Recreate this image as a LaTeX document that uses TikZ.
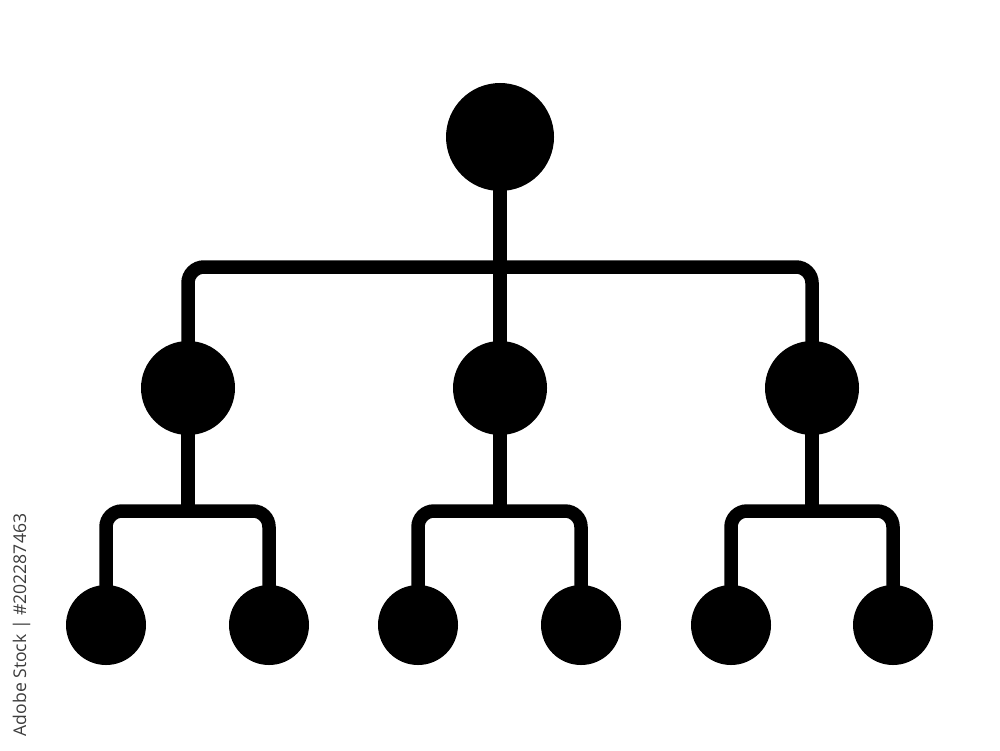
\documentclass[tikz,border=0pt]{standalone}
\usepackage{fontspec}
\usetikzlibrary{backgrounds}
\newfontfamily\marcafont{Open Sans}
\definecolor{cinza}{HTML}{3C3C3C}
\tikzset{
	no/.style={circle, fill=black, inner sep=0pt, outer sep=0pt, minimum size=#1},
	liga/.style={line width=1.35mm, rounded corners=1.6mm},
}
\begin{document}
\begin{tikzpicture} %Início do desenho
					\useasboundingbox (0,0) rectangle (10,7.5); %Área do desenho
						%Nós
					\node[no=10.8mm] (raiz) at (5,6.13) {}; %Raiz
					
					\node[no=9.4mm] (m1) at (1.88,3.62) {};
					\node[no=9.4mm] (m2) at (5,3.62) {};
					\node[no=9.4mm] (m3) at (8.12,3.62) {};
					
					\node[no=8mm] (f1) at (1.06,1.25) {};
					\node[no=8mm] (f2) at (2.69,1.25) {};
					\node[no=8mm] (f3) at (4.18,1.25) {};
					\node[no=8mm] (f4) at (5.81,1.25) {};
					\node[no=8mm] (f5) at (7.31,1.25) {};
					\node[no=8mm] (f6) at (8.93,1.25) {};
						%Ligações (atrás dos nós)
					\coordinate (b0) at (5,4.83);
					\coordinate (b1) at (1.88,2.39);
					\coordinate (b2) at (5,2.39);
					\coordinate (b3) at (8.12,2.39);
					
					\begin{scope}[on background layer]
					\draw[liga] (raiz.center) -- (m2.center);
					\draw[liga] (m1.center) |- (b0) -| (m3.center);
					
					\draw[liga] (m1.center) -- (b1);
					\draw[liga] (f1.center) |- (b1) -| (f2.center);
					
					\draw[liga] (m2.center) -- (b2);
					\draw[liga] (f3.center) |- (b2) -| (f4.center);
					
					\draw[liga] (m3.center) -- (b3);
					\draw[liga] (f5.center) |- (b3) -| (f6.center);
					\end{scope}
						%Marca
					\node[rotate=90, text=cinza, font=\marcafont\fontsize{5}{6}\selectfont] (marca) at (0.215,1.25) {Adobe Stock | \#202287463};
				\end{tikzpicture}
\end{document}
